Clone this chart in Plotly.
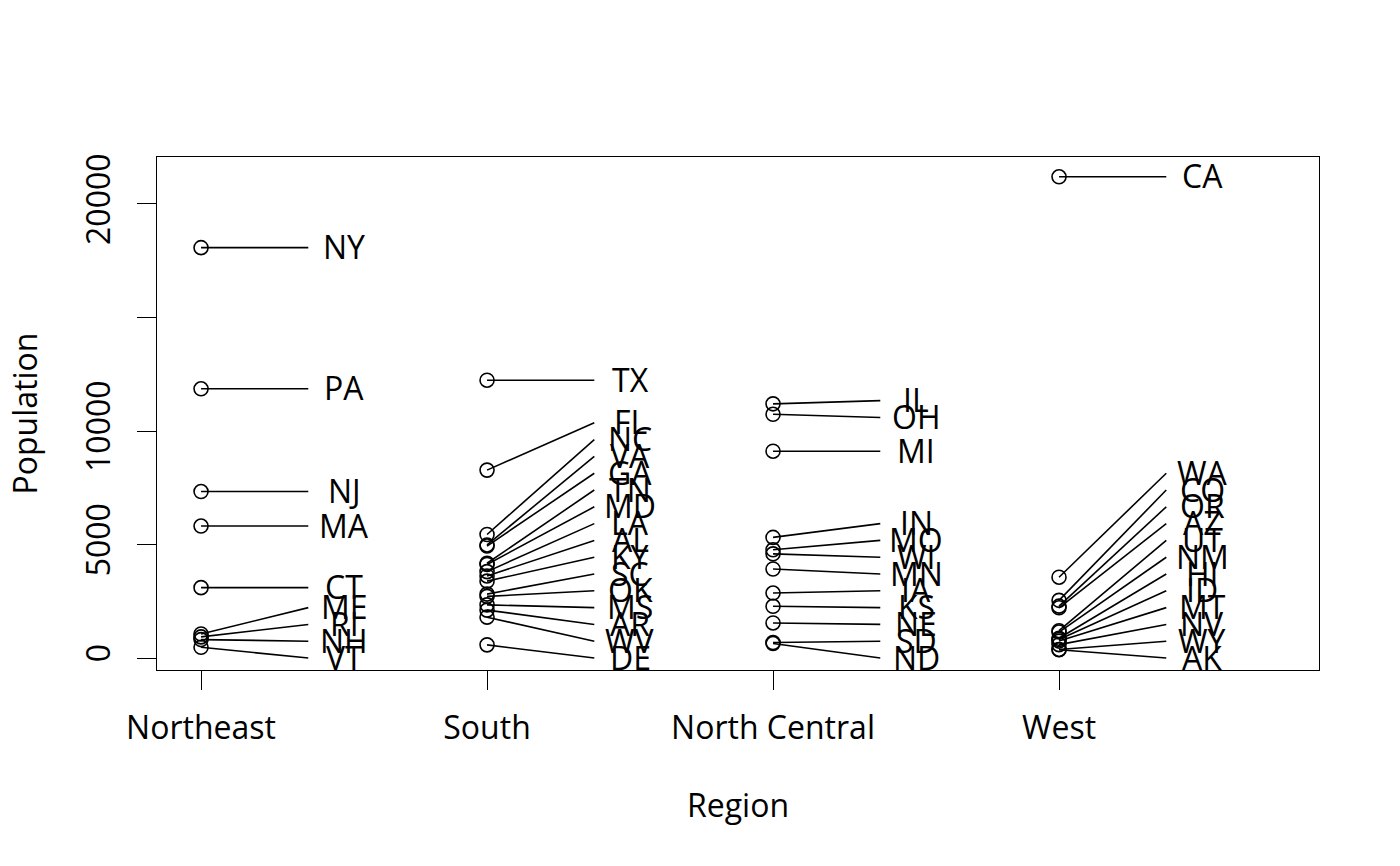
"""Население штатов по регионам (state.x77, 1975) — точки с разнесёнными подписями."""

import numpy as np
import plotly.graph_objects as go

REGIONS = ["Northeast", "South", "North Central", "West"]

NE_STATES = ["CT", "ME", "MA", "NH", "RI", "VT", "NJ", "NY", "PA"]
NE_POP = [3100, 1058, 5814, 812, 931, 472, 7333, 18076, 11860]

SOUTH_STATES = ["DE", "FL", "GA", "MD", "NC", "SC", "VA", "WV", "AL", "KY",
                "MS", "TN", "AR", "LA", "OK", "TX"]
SOUTH_POP = [579, 8277, 4931, 4122, 5441, 2816, 4981, 1799, 3615, 3387,
             2341, 4173, 2110, 3806, 2715, 12237]

NC_STATES = ["IL", "IN", "MI", "OH", "WI", "IA", "KS", "MN", "MO", "NE", "ND", "SD"]
NC_POP = [11197, 5313, 9111, 10735, 4589, 2861, 2280, 3921, 4767, 1544, 637, 681]

WEST_STATES = ["AZ", "CO", "ID", "MT", "NV", "NM", "UT", "WY", "AK", "CA", "HI", "OR", "WA"]
WEST_POP = [2212, 2541, 813, 746, 590, 1144, 1203, 376, 365, 21198, 868, 2284, 3559]

GROUPS = [
    (NE_STATES, NE_POP),
    (SOUTH_STATES, SOUTH_POP),
    (NC_STATES, NC_POP),
    (WEST_STATES, WEST_POP),
]

LABEL_GAP = 740      # минимальный шаг подписей по y
LABEL_FLOOR = 0      # подписи не опускаются ниже нуля
LINE_END = 0.375     # конец выноски относительно точки
LABEL_DX = 0.5       # центр подписи относительно точки

FONT = "Open Sans"
FONT_SIZE = 32


def spread_labels(values, gap, floor):
    """Разнести подписи: кластеры центрируются по среднему, с нижней границей."""
    order = np.argsort(values, kind="stable")
    vals = np.asarray(values, dtype=float)[order]
    clusters = []  # [first, count, sum]

    def bottom(c):
        center = c[2] / c[1]
        return max(center - (c[1] - 1) / 2 * gap, floor)

    for i, v in enumerate(vals):
        clusters.append([i, 1, v])
        while len(clusters) > 1:
            prev, cur = clusters[-2], clusters[-1]
            if bottom(prev) + (prev[1] - 1) * gap + gap > bottom(cur):
                clusters.pop()
                prev[1] += cur[1]
                prev[2] += cur[2]
            else:
                break

    pos_sorted = np.empty(len(vals))
    for c in clusters:
        b = bottom(c)
        for k in range(c[1]):
            pos_sorted[c[0] + k] = b + k * gap
    pos = np.empty(len(vals))
    pos[order] = pos_sorted
    return pos


fig = go.Figure()

seg_x, seg_y = [], []
pt_x, pt_y = [], []
for gi, (states, pops) in enumerate(GROUPS):
    xi = gi + 1
    label_y = spread_labels(pops, LABEL_GAP, LABEL_FLOOR)
    for s, p, ly in zip(states, pops, label_y):
        seg_x += [xi, xi + LINE_END, None]
        seg_y += [p, ly, None]
        pt_x.append(xi)
        pt_y.append(p)
        # подпись штата: центр по y совпадает с концом выноски
        fig.add_annotation(
            x=xi + LABEL_DX, y=ly, text=s, showarrow=False,
            xanchor="center", yanchor="middle", yshift=1,
            font=dict(family=FONT, size=FONT_SIZE, color="black"),
        )

fig.add_trace(go.Scatter(
    x=seg_x, y=seg_y, mode="lines",
    line=dict(color="black", width=1.6),
    hoverinfo="skip",
))
fig.add_trace(go.Scatter(
    x=pt_x, y=pt_y, mode="markers",
    marker=dict(symbol="circle-open", size=14, color="black", line=dict(width=1.6)),
))

axis_common = dict(
    showline=True, linecolor="black", linewidth=1.3, mirror=True,
    ticks="outside", ticklen=19, tickwidth=1.3, tickcolor="black",
    showgrid=False, zeroline=False,
    tickfont=dict(family=FONT, size=FONT_SIZE, color="black"),
)

fig.update_xaxes(
    range=[0.846, 4.909],
    tickmode="array", tickvals=[1, 2, 3, 4], ticktext=REGIONS,
    ticklabelstandoff=10,
    **axis_common,
)
fig.update_yaxes(
    range=[-528, 22070],
    tickmode="array", tickvals=[0, 5000, 10000, 15000, 20000],
    ticktext=["0", "5000", "10000", "", "20000"],
    tickangle=-90,
    ticklabelstandoff=14,
    **axis_common,
)

fig.add_annotation(
    text="Population", xref="paper", yref="paper", x=-0.1136, y=0.5,
    xanchor="center", yanchor="middle",
    textangle=-90, showarrow=False,
    font=dict(family=FONT, size=FONT_SIZE, color="black"),
)
fig.add_annotation(
    text="Region", xref="paper", yref="paper", x=0.5, y=-0.263,
    xanchor="center", yanchor="middle",
    showarrow=False,
    font=dict(family=FONT, size=FONT_SIZE, color="black"),
)

fig.update_layout(
    width=1400, height=866,
    margin=dict(l=149, r=89, t=149, b=204),
    paper_bgcolor="white", plot_bgcolor="white",
    showlegend=False,
    font=dict(family=FONT, size=FONT_SIZE, color="black"),
)

fig.write_html("out.html")
